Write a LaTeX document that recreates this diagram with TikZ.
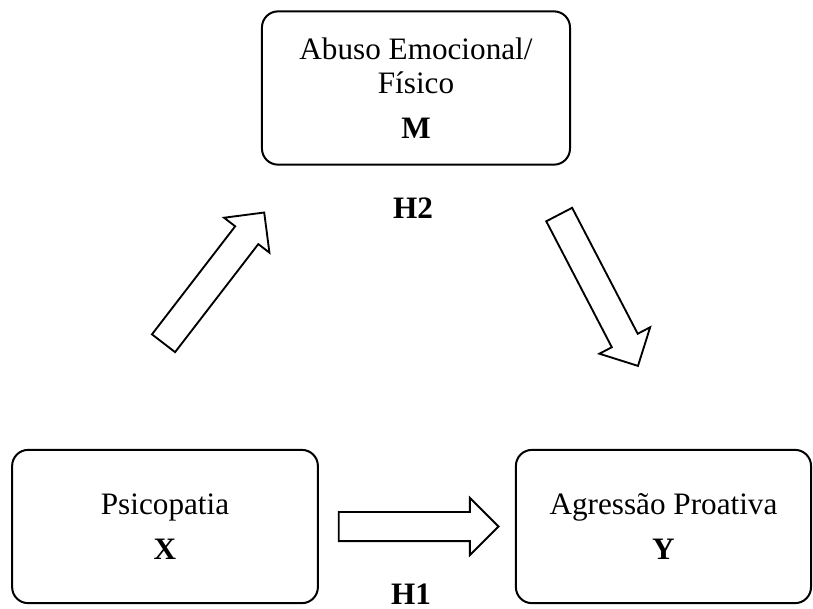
\documentclass[tikz,border=0pt]{standalone}
\usepackage{fontspec}
\setmainfont{Liberation Serif}
\usetikzlibrary{shapes.arrows,calc,positioning}

\begin{document}
\begin{tikzpicture}[font=\fontsize{11.7pt}{12.75pt}\selectfont]
    \tikzset{
      box/.style={draw, line width=0.75pt, rounded corners=6pt, align=center, minimum height=2.02cm},
      bigarrow/.style={single arrow, draw, line width=0.7pt, inner xsep=0pt, inner ysep=0.18cm, single arrow head extend=0.185cm},
      hyp/.style={font=\fontsize{11.7pt}{12.75pt}\selectfont\bfseries}
    }
    \useasboundingbox (0,0) rectangle (10.716,8.014);
    \node[box, minimum width=4.06cm] (abuso) at (5.483,6.854) {Abuso Emocional/\\Físico\\[4.3pt]\textbf{M}};
    \node[box, minimum width=4.03cm] (psico) at (2.175,1.074) {Psicopatia\\[4.3pt]\textbf{X}};
    \node[box, minimum width=3.89cm] (agress) at (8.745,1.074) {Agressão Proativa\\[4.3pt]\textbf{Y}};
    \node[bigarrow, minimum height=2.105cm, right=0.25cm of psico, anchor=tail] (xy) {};
    \node[bigarrow, minimum height=2.175cm, rotate=52.4, anchor=tail] (xm) at (2.148,3.480) {};
    \node[bigarrow, minimum height=2.249cm, rotate=-62.5, anchor=tail] (my) at (7.365,5.197) {};
    \node[hyp] (h2) at (5.443,5.272) {H2};
    \node[hyp] (h1) at (5.417,0.185) {H1};
\end{tikzpicture}
\end{document}
